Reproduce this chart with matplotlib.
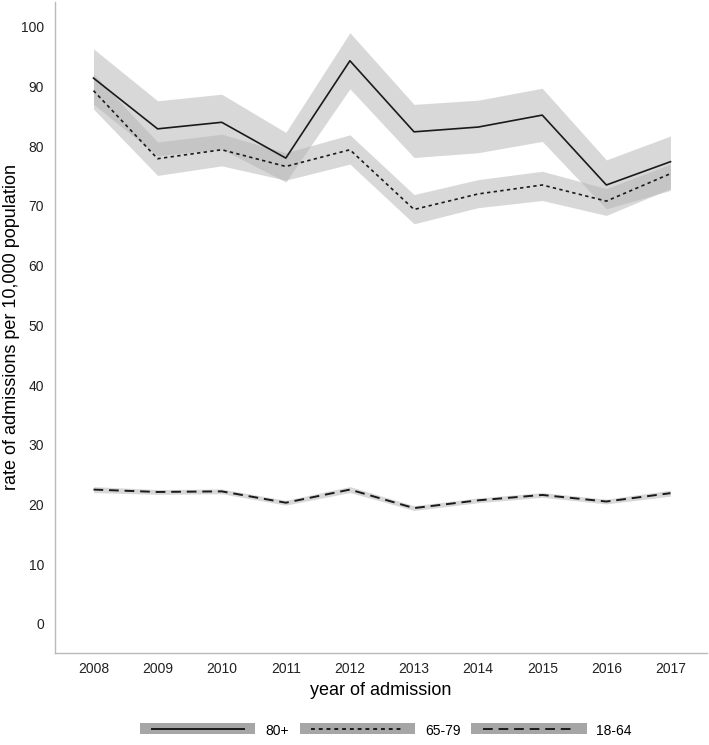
import matplotlib
matplotlib.use('Agg')
import matplotlib.pyplot as plt
from matplotlib.patches import Rectangle
from matplotlib.lines import Line2D

plt.rcParams['font.family'] = ['Liberation Sans', 'DejaVu Sans']

years = [2008, 2009, 2010, 2011, 2012, 2013, 2014, 2015, 2016, 2017]

# rate per 10,000 population, with confidence bands
age_80 = [91.4, 82.9, 84.0, 78.0, 94.3, 82.4, 83.2, 85.2, 73.5, 77.4]
age_80_hi = [96.3, 87.6, 88.7, 82.3, 99.0, 87.0, 87.7, 89.7, 77.7, 81.7]
age_80_lo = [87.0, 78.4, 79.5, 74.0, 89.6, 78.1, 78.9, 80.8, 69.5, 72.6]

age_65 = [89.3, 77.9, 79.4, 76.6, 79.4, 69.4, 72.0, 73.5, 70.8, 75.4]
age_65_hi = [92.1, 80.7, 82.0, 78.9, 81.9, 71.9, 74.4, 75.8, 72.9, 77.0]
age_65_lo = [86.2, 75.1, 76.7, 74.3, 77.0, 67.0, 69.7, 70.9, 68.4, 72.9]

age_18 = [22.5, 22.1, 22.2, 20.3, 22.5, 19.4, 20.7, 21.6, 20.5, 21.9]
age_18_hi = [23.0, 22.5, 22.6, 20.7, 23.0, 19.8, 21.1, 22.0, 20.9, 22.4]
age_18_lo = [22.0, 21.7, 21.8, 19.9, 22.0, 19.0, 20.3, 21.2, 20.1, 21.4]

labels = ['80+', '65-79', '18-64']


class BoxLineHandler:
    def __init__(self, dashes):
        self.dashes = dashes

    def legend_artist(self, legend, orig_handle, fontsize, handlebox):
        x0, y0 = handlebox.xdescent, handlebox.ydescent
        w, h = handlebox.width, handlebox.height
        box = Rectangle((x0, y0), w, h, facecolor='#a6a6a6', edgecolor='none',
                        transform=handlebox.get_transform())
        line = Line2D([x0 + 0.1 * w, x0 + 0.9 * w], [y0 + h / 2, y0 + h / 2],
                      color='#1a1a1a', lw=1.4, transform=handlebox.get_transform())
        if self.dashes is not None:
            line.set_dashes(self.dashes)
        handlebox.add_artist(box)
        handlebox.add_artist(line)
        return box


fig = plt.figure(figsize=(7.09, 7.45), dpi=100)
ax = fig.add_axes([0.0776, 0.124, 0.9196, 0.873])

band = dict(color='#b3b3b3', alpha=0.5, lw=0)
ax.fill_between(years, age_80_lo, age_80_hi, **band)
ax.fill_between(years, age_65_lo, age_65_hi, **band)
ax.fill_between(years, age_18_lo, age_18_hi, **band)

l1, = ax.plot(years, age_80, color='#1a1a1a', lw=1.2)
l2, = ax.plot(years, age_65, color='#1a1a1a', lw=1.2, dashes=(2, 2))
l3, = ax.plot(years, age_18, color='#1a1a1a', lw=1.4, dashes=(5, 3))

ax.set_xlim(2007.40, 2017.57)
ax.set_ylim(-4.8, 104.1)
ax.set_xticks(years)
ax.set_yticks(range(0, 101, 10))
ax.tick_params(length=0, labelsize=10, colors='#222222', pad=8)
ax.tick_params(axis='x', pad=7)

for s in ['top', 'right']:
    ax.spines[s].set_visible(False)
for s in ['left', 'bottom']:
    ax.spines[s].set_color('#bbbbbb')
    ax.spines[s].set_linewidth(1.0)

ax.set_xlabel('year of admission', fontsize=13)
ax.xaxis.set_label_coords(0.5, -0.045)
ax.set_ylabel('rate of admissions per 10,000 population', fontsize=13)
ax.yaxis.set_label_coords(-0.053, 0.5)

fig.legend([l1, l2, l3], labels, loc='center', bbox_to_anchor=(386 / 709, 1 - 731 / 745),
           ncol=3, frameon=False, fontsize=10, handlelength=8.3, handleheight=0.86,
           handletextpad=0.7, columnspacing=0.8,
           handler_map={l1: BoxLineHandler(None), l2: BoxLineHandler((2, 2)),
                        l3: BoxLineHandler((5, 3))})

fig.savefig('out.png', dpi=100)
